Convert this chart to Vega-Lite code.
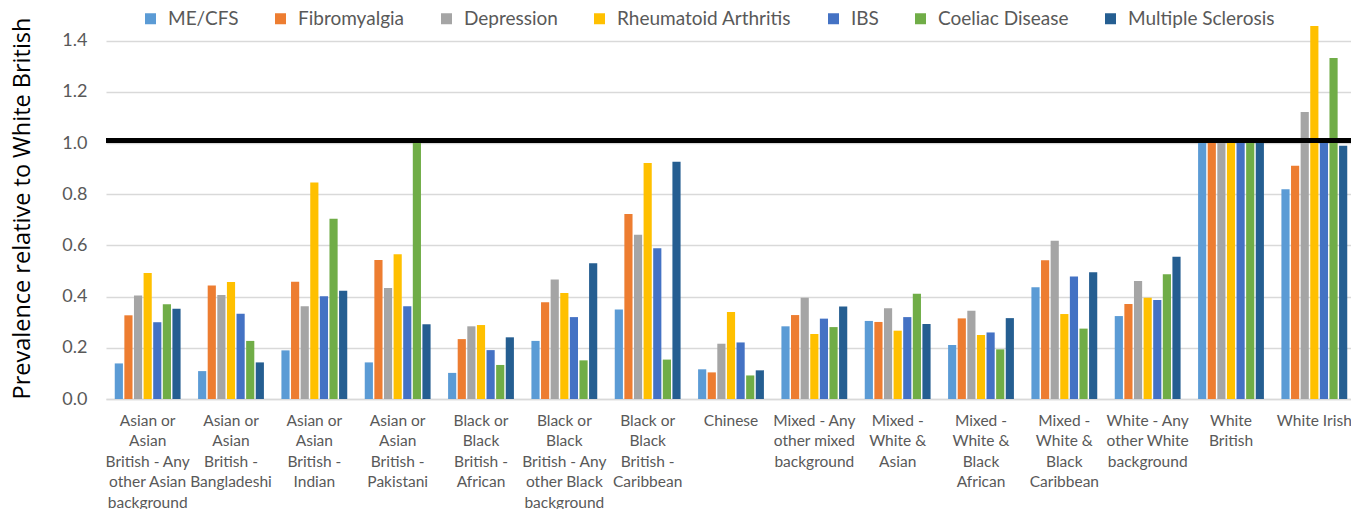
{
  "$schema": "https://vega.github.io/schema/vega-lite/v6.json",
  "width": 1250,
  "height": 399,
  "autosize": {"type": "none"},
  "padding": {"left": 106, "top": 0, "right": 0, "bottom": 110},
  "background": "white",
  "config": {"view": {"stroke": null}, "font": "Lato"},
  "datasets": {
    "rows": [
      {"group": "Asian or Asian British - Any other Asian background", "condition": "ME/CFS", "value": 0.139},
      {"group": "Asian or Asian British - Any other Asian background", "condition": "Fibromyalgia", "value": 0.327},
      {"group": "Asian or Asian British - Any other Asian background", "condition": "Depression", "value": 0.404},
      {"group": "Asian or Asian British - Any other Asian background", "condition": "Rheumatoid Arthritis", "value": 0.492},
      {"group": "Asian or Asian British - Any other Asian background", "condition": "IBS", "value": 0.300},
      {"group": "Asian or Asian British - Any other Asian background", "condition": "Coeliac Disease", "value": 0.370},
      {"group": "Asian or Asian British - Any other Asian background", "condition": "Multiple Sclerosis", "value": 0.353},
      {"group": "Asian or Asian British - Bangladeshi", "condition": "ME/CFS", "value": 0.109},
      {"group": "Asian or Asian British - Bangladeshi", "condition": "Fibromyalgia", "value": 0.443},
      {"group": "Asian or Asian British - Bangladeshi", "condition": "Depression", "value": 0.406},
      {"group": "Asian or Asian British - Bangladeshi", "condition": "Rheumatoid Arthritis", "value": 0.457},
      {"group": "Asian or Asian British - Bangladeshi", "condition": "IBS", "value": 0.333},
      {"group": "Asian or Asian British - Bangladeshi", "condition": "Coeliac Disease", "value": 0.227},
      {"group": "Asian or Asian British - Bangladeshi", "condition": "Multiple Sclerosis", "value": 0.143},
      {"group": "Asian or Asian British - Indian", "condition": "ME/CFS", "value": 0.190},
      {"group": "Asian or Asian British - Indian", "condition": "Fibromyalgia", "value": 0.458},
      {"group": "Asian or Asian British - Indian", "condition": "Depression", "value": 0.362},
      {"group": "Asian or Asian British - Indian", "condition": "Rheumatoid Arthritis", "value": 0.846},
      {"group": "Asian or Asian British - Indian", "condition": "IBS", "value": 0.401},
      {"group": "Asian or Asian British - Indian", "condition": "Coeliac Disease", "value": 0.704},
      {"group": "Asian or Asian British - Indian", "condition": "Multiple Sclerosis", "value": 0.423},
      {"group": "Asian or Asian British - Pakistani", "condition": "ME/CFS", "value": 0.143},
      {"group": "Asian or Asian British - Pakistani", "condition": "Fibromyalgia", "value": 0.543},
      {"group": "Asian or Asian British - Pakistani", "condition": "Depression", "value": 0.434},
      {"group": "Asian or Asian British - Pakistani", "condition": "Rheumatoid Arthritis", "value": 0.566},
      {"group": "Asian or Asian British - Pakistani", "condition": "IBS", "value": 0.362},
      {"group": "Asian or Asian British - Pakistani", "condition": "Coeliac Disease", "value": 1.0},
      {"group": "Asian or Asian British - Pakistani", "condition": "Multiple Sclerosis", "value": 0.292},
      {"group": "Black or Black British - African", "condition": "ME/CFS", "value": 0.102},
      {"group": "Black or Black British - African", "condition": "Fibromyalgia", "value": 0.234},
      {"group": "Black or Black British - African", "condition": "Depression", "value": 0.284},
      {"group": "Black or Black British - African", "condition": "Rheumatoid Arthritis", "value": 0.289},
      {"group": "Black or Black British - African", "condition": "IBS", "value": 0.191},
      {"group": "Black or Black British - African", "condition": "Coeliac Disease", "value": 0.133},
      {"group": "Black or Black British - African", "condition": "Multiple Sclerosis", "value": 0.241},
      {"group": "Black or Black British - Any other Black background", "condition": "ME/CFS", "value": 0.227},
      {"group": "Black or Black British - Any other Black background", "condition": "Fibromyalgia", "value": 0.378},
      {"group": "Black or Black British - Any other Black background", "condition": "Depression", "value": 0.467},
      {"group": "Black or Black British - Any other Black background", "condition": "Rheumatoid Arthritis", "value": 0.414},
      {"group": "Black or Black British - Any other Black background", "condition": "IBS", "value": 0.320},
      {"group": "Black or Black British - Any other Black background", "condition": "Coeliac Disease", "value": 0.151},
      {"group": "Black or Black British - Any other Black background", "condition": "Multiple Sclerosis", "value": 0.530},
      {"group": "Black or Black British - Caribbean", "condition": "ME/CFS", "value": 0.350},
      {"group": "Black or Black British - Caribbean", "condition": "Fibromyalgia", "value": 0.723},
      {"group": "Black or Black British - Caribbean", "condition": "Depression", "value": 0.642},
      {"group": "Black or Black British - Caribbean", "condition": "Rheumatoid Arthritis", "value": 0.922},
      {"group": "Black or Black British - Caribbean", "condition": "IBS", "value": 0.589},
      {"group": "Black or Black British - Caribbean", "condition": "Coeliac Disease", "value": 0.154},
      {"group": "Black or Black British - Caribbean", "condition": "Multiple Sclerosis", "value": 0.927},
      {"group": "Chinese", "condition": "ME/CFS", "value": 0.116},
      {"group": "Chinese", "condition": "Fibromyalgia", "value": 0.104},
      {"group": "Chinese", "condition": "Depression", "value": 0.216},
      {"group": "Chinese", "condition": "Rheumatoid Arthritis", "value": 0.340},
      {"group": "Chinese", "condition": "IBS", "value": 0.221},
      {"group": "Chinese", "condition": "Coeliac Disease", "value": 0.092},
      {"group": "Chinese", "condition": "Multiple Sclerosis", "value": 0.112},
      {"group": "Mixed - Any other mixed background", "condition": "ME/CFS", "value": 0.284},
      {"group": "Mixed - Any other mixed background", "condition": "Fibromyalgia", "value": 0.328},
      {"group": "Mixed - Any other mixed background", "condition": "Depression", "value": 0.396},
      {"group": "Mixed - Any other mixed background", "condition": "Rheumatoid Arthritis", "value": 0.254},
      {"group": "Mixed - Any other mixed background", "condition": "IBS", "value": 0.314},
      {"group": "Mixed - Any other mixed background", "condition": "Coeliac Disease", "value": 0.281},
      {"group": "Mixed - Any other mixed background", "condition": "Multiple Sclerosis", "value": 0.361},
      {"group": "Mixed - White & Asian", "condition": "ME/CFS", "value": 0.305},
      {"group": "Mixed - White & Asian", "condition": "Fibromyalgia", "value": 0.301},
      {"group": "Mixed - White & Asian", "condition": "Depression", "value": 0.355},
      {"group": "Mixed - White & Asian", "condition": "Rheumatoid Arthritis", "value": 0.267},
      {"group": "Mixed - White & Asian", "condition": "IBS", "value": 0.320},
      {"group": "Mixed - White & Asian", "condition": "Coeliac Disease", "value": 0.411},
      {"group": "Mixed - White & Asian", "condition": "Multiple Sclerosis", "value": 0.293},
      {"group": "Mixed - White & Black African", "condition": "ME/CFS", "value": 0.211},
      {"group": "Mixed - White & Black African", "condition": "Fibromyalgia", "value": 0.315},
      {"group": "Mixed - White & Black African", "condition": "Depression", "value": 0.345},
      {"group": "Mixed - White & Black African", "condition": "Rheumatoid Arthritis", "value": 0.250},
      {"group": "Mixed - White & Black African", "condition": "IBS", "value": 0.260},
      {"group": "Mixed - White & Black African", "condition": "Coeliac Disease", "value": 0.194},
      {"group": "Mixed - White & Black African", "condition": "Multiple Sclerosis", "value": 0.316},
      {"group": "Mixed - White & Black Caribbean", "condition": "ME/CFS", "value": 0.437},
      {"group": "Mixed - White & Black Caribbean", "condition": "Fibromyalgia", "value": 0.542},
      {"group": "Mixed - White & Black Caribbean", "condition": "Depression", "value": 0.618},
      {"group": "Mixed - White & Black Caribbean", "condition": "Rheumatoid Arthritis", "value": 0.332},
      {"group": "Mixed - White & Black Caribbean", "condition": "IBS", "value": 0.479},
      {"group": "Mixed - White & Black Caribbean", "condition": "Coeliac Disease", "value": 0.275},
      {"group": "Mixed - White & Black Caribbean", "condition": "Multiple Sclerosis", "value": 0.495},
      {"group": "White - Any other White background", "condition": "ME/CFS", "value": 0.324},
      {"group": "White - Any other White background", "condition": "Fibromyalgia", "value": 0.371},
      {"group": "White - Any other White background", "condition": "Depression", "value": 0.461},
      {"group": "White - Any other White background", "condition": "Rheumatoid Arthritis", "value": 0.396},
      {"group": "White - Any other White background", "condition": "IBS", "value": 0.387},
      {"group": "White - Any other White background", "condition": "Coeliac Disease", "value": 0.487},
      {"group": "White - Any other White background", "condition": "Multiple Sclerosis", "value": 0.556},
      {"group": "White British", "condition": "ME/CFS", "value": 1.0},
      {"group": "White British", "condition": "Fibromyalgia", "value": 1.0},
      {"group": "White British", "condition": "Depression", "value": 1.0},
      {"group": "White British", "condition": "Rheumatoid Arthritis", "value": 1.0},
      {"group": "White British", "condition": "IBS", "value": 1.0},
      {"group": "White British", "condition": "Coeliac Disease", "value": 1.0},
      {"group": "White British", "condition": "Multiple Sclerosis", "value": 1.0},
      {"group": "White Irish", "condition": "ME/CFS", "value": 0.820},
      {"group": "White Irish", "condition": "Fibromyalgia", "value": 0.911},
      {"group": "White Irish", "condition": "Depression", "value": 1.121},
      {"group": "White Irish", "condition": "Rheumatoid Arthritis", "value": 1.457},
      {"group": "White Irish", "condition": "IBS", "value": 1.02},
      {"group": "White Irish", "condition": "Coeliac Disease", "value": 1.332},
      {"group": "White Irish", "condition": "Multiple Sclerosis", "value": 0.990}
    ]
  },
  "data": {"name": "rows"},
  "layer": [
    {
      "mark": {"type": "bar"},
      "encoding": {
        "x": {
          "field": "group",
          "type": "nominal",
          "sort": null,
          "title": null,
          "scale": {"paddingInner": 0.21, "paddingOuter": 0.105},
          "axis": {
            "labelAngle": 0,
            "labelFont": "Lato",
            "labelFontSize": 15.5,
            "labelColor": "#595959",
            "labelLineHeight": 20.5,
            "labelPadding": 14,
            "labelBaseline": "top",
            "labelLimit": 0,
            "labelOverlap": false,
            "labelBound": false,
            "labelFlush": false,
            "ticks": false,
            "domainColor": "#D9D9D9",
            "domainWidth": 1.5,
            "labelExpr": "{'Asian or Asian British - Any other Asian background': ['Asian or','Asian','British - Any','other Asian','background'], 'Asian or Asian British - Bangladeshi': ['Asian or','Asian','British -','Bangladeshi'], 'Asian or Asian British - Indian': ['Asian or','Asian','British -','Indian'], 'Asian or Asian British - Pakistani': ['Asian or','Asian','British -','Pakistani'], 'Black or Black British - African': ['Black or','Black','British -','African'], 'Black or Black British - Any other Black background': ['Black or','Black','British - Any','other Black','background'], 'Black or Black British - Caribbean': ['Black or','Black','British -','Caribbean'], 'Chinese': ['Chinese'], 'Mixed - Any other mixed background': ['Mixed - Any','other mixed','background'], 'Mixed - White & Asian': ['Mixed -','White &','Asian'], 'Mixed - White & Black African': ['Mixed -','White &','Black','African'], 'Mixed - White & Black Caribbean': ['Mixed -','White &','Black','Caribbean'], 'White - Any other White background': ['White - Any','other White','background'], 'White British': ['White','British'], 'White Irish': ['White Irish']}[datum.label]"
          }
        },
        "xOffset": {
          "field": "condition",
          "type": "nominal",
          "sort": ["ME/CFS", "Fibromyalgia", "Depression", "Rheumatoid Arthritis", "IBS", "Coeliac Disease", "Multiple Sclerosis"],
          "scale": {"paddingInner": 0.15}
        },
        "y": {
          "field": "value",
          "type": "quantitative",
          "scale": {"domain": [0, 1.559], "nice": false},
          "axis": {
            "values": [0, 0.2, 0.4, 0.6, 0.8, 1.0, 1.2, 1.4],
            "format": ".1f",
            "labelFont": "Lato",
            "labelFontSize": 18,
            "labelColor": "#595959",
            "labelPadding": 19,
            "domain": false,
            "ticks": false,
            "grid": true,
            "gridColor": "#D9D9D9",
            "gridWidth": 1.3,
            "title": "Prevalence relative to White British",
            "titleFont": "Open Sans",
            "titleFontSize": 23.5,
            "titleFontWeight": "normal",
            "titleColor": "#000000",
            "titleX": -84,
            "titleY": 208,
            "titleAngle": -90,
            "titleAlign": "center",
            "titleBaseline": "middle"
          }
        },
        "color": {
          "field": "condition",
          "type": "nominal",
          "scale": {
            "domain": ["ME/CFS", "Fibromyalgia", "Depression", "Rheumatoid Arthritis", "IBS", "Coeliac Disease", "Multiple Sclerosis"],
            "range": ["#5B9BD5", "#ED7D31", "#A5A5A5", "#FFC000", "#4472C4", "#70AD47", "#255E91"]
          },
          "legend": {
            "orient": "none",
            "legendX": 35,
            "legendY": 9,
            "direction": "horizontal",
            "columns": 7,
            "title": null,
            "symbolType": "square",
            "symbolSize": 121,
            "symbolStrokeWidth": 0,
            "labelFont": "Lato",
            "labelFontSize": 19,
            "labelColor": "#595959",
            "labelOffset": 8,
            "columnPadding": 32,
            "labelLimit": 0
          }
        }
      }
    },
    {
      "mark": {"type": "rule", "color": "#000000", "strokeWidth": 4},
      "encoding": {"y": {"datum": 1.01}}
    }
  ]
}
